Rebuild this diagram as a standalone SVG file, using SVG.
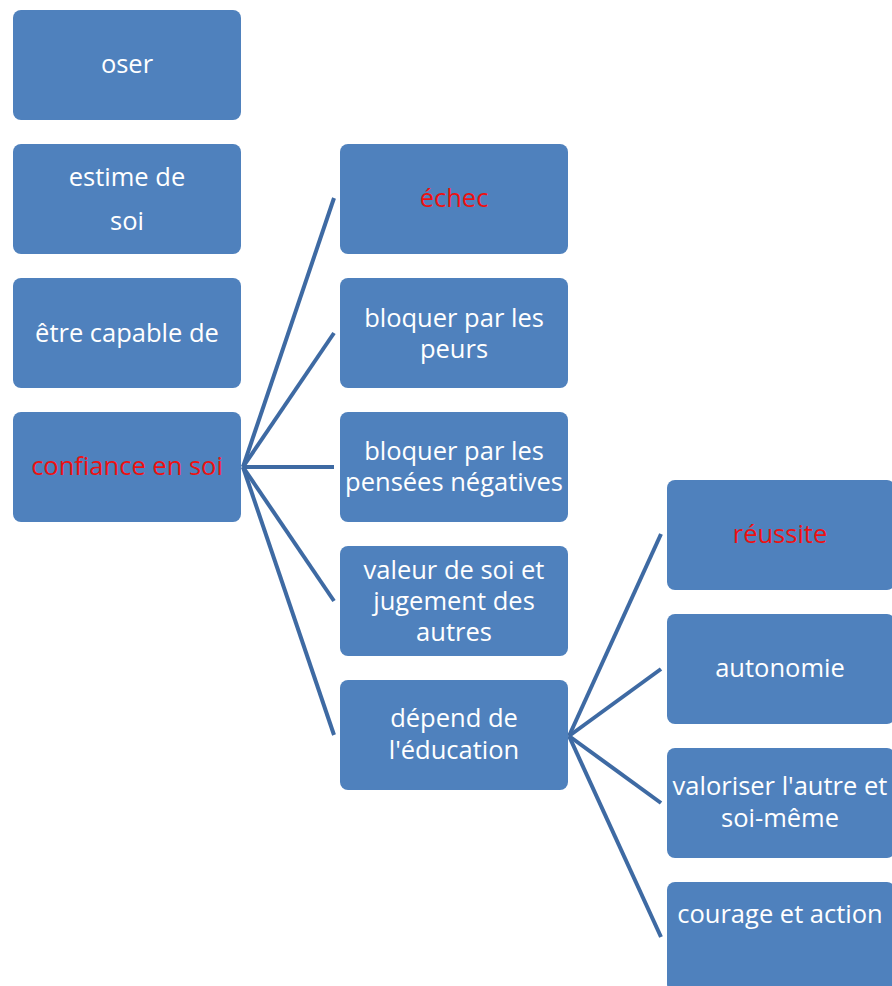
<svg xmlns="http://www.w3.org/2000/svg" width="892" height="986" viewBox="0 0 892 986">
<style>
.box{fill:#4f81bd;}
.t{font-family:"Open Sans","Noto Sans",sans-serif;font-size:25.5px;fill:#ffffff;text-anchor:middle;}
.r{fill:#ee1111;}
.c{stroke:#3e6aa3;stroke-width:4;fill:none;stroke-linecap:butt;}
</style>
<rect width="892" height="986" fill="#ffffff"/>
<g id="connectors">
<line class="c" x1="243" y1="467" x2="334" y2="198"/>
<line class="c" x1="243" y1="467" x2="334" y2="333"/>
<line class="c" x1="243" y1="467" x2="334" y2="467"/>
<line class="c" x1="243" y1="467" x2="334" y2="601"/>
<line class="c" x1="243" y1="467" x2="334" y2="735"/>
<line class="c" x1="569" y1="736" x2="661" y2="534"/>
<line class="c" x1="569" y1="736" x2="661" y2="669"/>
<line class="c" x1="569" y1="736" x2="661" y2="803"/>
<line class="c" x1="569" y1="736" x2="661" y2="937"/>
</g>
<g id="oser"><rect class="box" x="13" y="10" width="228" height="110" rx="8"/><text class="t" x="127" y="73">oser</text></g>
<g id="estime"><rect class="box" x="13" y="144" width="228" height="110" rx="8"/><text class="t" x="127" y="186">estime de</text><text class="t" x="127" y="230">soi</text></g>
<g id="etre"><rect class="box" x="13" y="278" width="228" height="110" rx="8"/><text class="t" x="127" y="342">être capable de</text></g>
<g id="confiance"><rect class="box" x="13" y="412" width="228" height="110" rx="8"/><text class="t r" x="127" y="475">confiance en soi</text></g>
<g id="echec"><rect class="box" x="340" y="144" width="228" height="110" rx="8"/><text class="t r" x="454" y="207">échec</text></g>
<g id="peurs"><rect class="box" x="340" y="278" width="228" height="110" rx="8"/><text class="t" x="454" y="327">bloquer par les</text><text class="t" x="454" y="358">peurs</text></g>
<g id="pensees"><rect class="box" x="340" y="412" width="228" height="110" rx="8"/><text class="t" x="454" y="460">bloquer par les</text><text class="t" x="454" y="491">pensées négatives</text></g>
<g id="valeur"><rect class="box" x="340" y="546" width="228" height="110" rx="8"/><text class="t" x="454" y="579">valeur de soi et</text><text class="t" x="454" y="610">jugement des</text><text class="t" x="454" y="641">autres</text></g>
<g id="depend"><rect class="box" x="340" y="680" width="228" height="110" rx="8"/><text class="t" x="454" y="727">dépend de</text><text class="t" x="454" y="759">l'éducation</text></g>
<g id="reussite"><rect class="box" x="667" y="480" width="228" height="110" rx="8"/><text class="t r" x="780" y="543">réussite</text></g>
<g id="autonomie"><rect class="box" x="667" y="614" width="228" height="110" rx="8"/><text class="t" x="780" y="677">autonomie</text></g>
<g id="valoriser"><rect class="box" x="667" y="748" width="228" height="110" rx="8"/><text class="t" x="780" y="795">valoriser l'autre et</text><text class="t" x="780" y="827">soi-même</text></g>
<g id="courage"><rect class="box" x="667" y="882" width="228" height="110" rx="8"/><text class="t" x="780" y="923">courage et action</text></g>
</svg>
